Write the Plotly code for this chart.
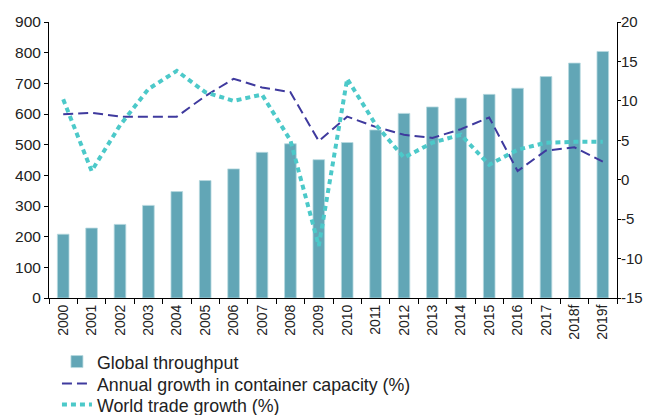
import plotly.graph_objects as go

years = ["2000", "2001", "2002", "2003", "2004", "2005", "2006", "2007", "2008", "2009",
         "2010", "2011", "2012", "2013", "2014", "2015", "2016", "2017", "2018f", "2019f"]
throughput = [208, 228, 240, 302, 347, 383, 421, 475, 503, 451,
              507, 548, 602, 623, 652, 664, 684, 722, 766, 804]
capacity_growth = [8.3, 8.5, 8.0, 8.0, 8.0, 10.6, 12.8, 11.7, 11.1, 4.9,
                   8.0, 6.7, 5.7, 5.3, 6.4, 7.9, 1.1, 3.7, 4.1, 2.3]
trade_growth = [10.2, 1.1, 6.9, 11.5, 13.8, 11.1, 10.0, 10.8, 5.0, -8.4,
                12.8, 7.0, 2.8, 4.7, 5.7, 1.9, 3.8, 4.7, 4.8, 4.8]
right_ticks = [-15, -10, -5, 0, 5, 10, 15, 20]
right_tick_labels = ["-15", "-10", "-5", "0", "5", "10", "15", "20"]

fig = go.Figure()
fig.add_trace(go.Bar(
    x=years, y=throughput, name="Global throughput", legend="legend",
    marker=dict(color="#62A6B6", line=dict(color="#B8D9E0", width=0.8)),
))
fig.add_trace(go.Scatter(
    x=years, y=capacity_growth, name="Annual growth in container capacity (%)",
    mode="lines", yaxis="y2", legend="legend2",
    line=dict(color="#3F3A9E", width=2, dash="10px,5px"),
))
fig.add_trace(go.Scatter(
    x=years, y=trade_growth, name="World trade growth (%)",
    mode="lines", yaxis="y2", legend="legend3",
    line=dict(color="#4CC9C9", width=4, dash="5px,4px"),
))

font = dict(family="Liberation Sans, Arial, sans-serif", size=15.5, color="#222222")
# The page body adds an 8px offset; the figure is sized to fill the rest of the window.
W, H = 643, 407
ML, MR, MT, MB = 41, 34, 14, 117
plot_h = H - MT - MB


def legend_at(ypix):
    # ypix: item centre in window pixels
    return dict(orientation="v", x=0.014, xanchor="left",
                y=(298 - ypix) / plot_h, yanchor="middle",
                font=dict(size=17.8, family=font["family"], color="#222222"),
                bgcolor="rgba(0,0,0,0)", borderwidth=0)


fig.update_layout(
    width=W, height=H,
    margin=dict(l=ML, r=MR, t=MT, b=MB, autoexpand=False),
    paper_bgcolor="white", plot_bgcolor="white",
    font=font,
    bargap=0.59,
    showlegend=True,
    legend=legend_at(362),
    legend2=legend_at(384),
    legend3=legend_at(405),
    xaxis=dict(type="category", tickangle=-90, showline=True, linecolor="black", linewidth=1,
               ticks="outside", tickson="boundaries", ticklen=5, tickcolor="black",
               tickfont=dict(size=14), showgrid=False, zeroline=False),
    yaxis=dict(range=[0, 900], dtick=100, showline=True, linecolor="black", linewidth=1,
               ticks="outside", ticklen=4, tickcolor="black", showgrid=False, zeroline=False),
    yaxis2=dict(range=[-15, 20], tickmode="array", tickvals=right_ticks,
                ticktext=right_tick_labels, overlaying="y", side="right", showline=True,
                linecolor="black", linewidth=1, ticks="outside", ticklen=3, tickcolor="black",
                ticklabelstandoff=-3, tickfont=dict(size=15),
                showgrid=False, zeroline=False),
)

fig.write_html("out.html")
